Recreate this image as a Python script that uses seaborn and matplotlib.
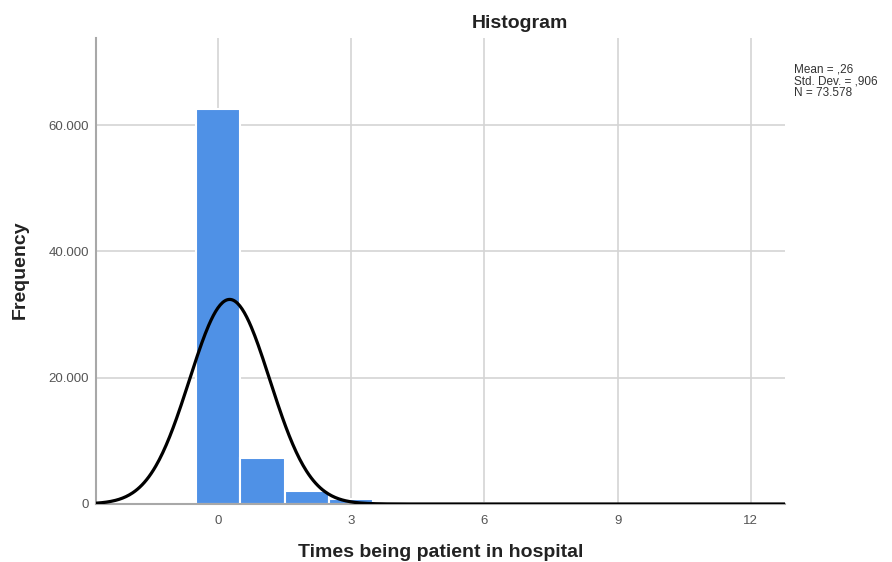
import numpy as np
import pandas as pd
import matplotlib
matplotlib.use("Agg")
import matplotlib.pyplot as plt
from matplotlib.ticker import FuncFormatter
import seaborn as sns

# Number of hospital stays (integer values) and how many respondents had each
times_values = [0, 1, 2, 3, 4, 5, 6, 7, 8, 9, 10, 11, 12]
frequencies = [62600, 7300, 2050, 800, 250, 150, 110, 80, 60, 50, 40, 35, 53]

# Summary statistics shown beside the chart
stat_mean = 0.26
stat_sd = 0.906
stat_n = 73578

x_ticks = [0, 3, 6, 9, 12]
y_ticks = [0, 20000, 40000, 60000]

sns.set_theme(style="white")
plt.rcParams["font.family"] = ["Liberation Sans", "DejaVu Sans"]

df = pd.DataFrame({"times": times_values, "count": frequencies})

fig = plt.figure(figsize=(8.92, 5.62), dpi=100)
ax = fig.add_axes([96 / 892, 1 - 504 / 562, (785 - 96) / 892, (504 - 38) / 562])

sns.histplot(data=df, x="times", weights="count", discrete=True,
             color="#4F91E6", edgecolor="white", linewidth=1.5, alpha=1.0,
             ax=ax, zorder=2)

# Normal curve scaled to the histogram (bin width 1)
xs = np.linspace(-2.75, 12.77, 600)
ys = stat_n * 1.0 / (stat_sd * np.sqrt(2 * np.pi)) * np.exp(-0.5 * ((xs - stat_mean) / stat_sd) ** 2)
sns.lineplot(x=xs, y=ys, color="black", linewidth=2.3, ax=ax, zorder=3)

ax.set_xlim(-2.75, 12.77)
ax.set_ylim(0, 73800)
ax.set_xticks(x_ticks)
ax.set_yticks(y_ticks)
ax.yaxis.set_major_formatter(FuncFormatter(lambda v, p: f"{int(v):,}".replace(",", ".")))

ax.set_axisbelow(True)
ax.grid(True, color="#d4d4d4", linewidth=1.2)
for side in ["top", "right"]:
    ax.spines[side].set_visible(False)
for side in ["left", "bottom"]:
    ax.spines[side].set_color("#a8a8a8")
    ax.spines[side].set_linewidth(1.5)

ax.tick_params(axis="both", length=0, labelsize=9.5, labelcolor="#555555")
ax.tick_params(axis="x", pad=8)
ax.tick_params(axis="y", pad=5)

ax.set_xlabel("Times being patient in hospital", fontsize=14, fontweight="bold",
              color="#222222", labelpad=12)
ax.set_ylabel("")
fig.text(20 / 892, 1 - 270 / 562, "Frequency", rotation=90, ha="center", va="center",
         fontsize=14, fontweight="bold", color="#222222")

fig.text(520 / 892, 1 - 23 / 562, "Histogram", ha="center", va="center",
         fontsize=14, fontweight="bold", color="#222222")

stats_txt = (f"Mean = ,{int(round(stat_mean * 100)):02d}\n"
             f"Std. Dev. = ,{int(round(stat_sd * 1000)):03d}\n"
             f"N = {stat_n:,}".replace(",", ".").replace("= .", "= ,"))
fig.text(794 / 892, 1 - 64 / 562, stats_txt, ha="left", va="top",
         fontsize=8.5, color="#333333", linespacing=0.95)

fig.savefig("out.png", dpi=100)
